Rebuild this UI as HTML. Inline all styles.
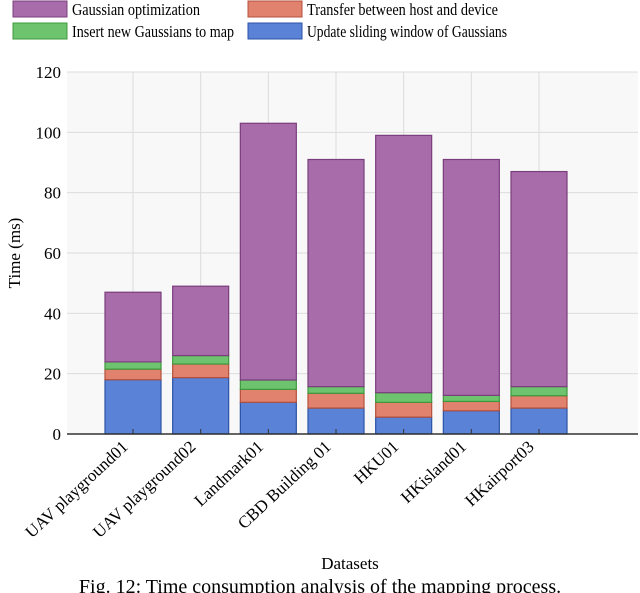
<!DOCTYPE html>
<html><head><meta charset="utf-8"><style>
body{margin:0;background:#fff;width:640px;height:593px;overflow:hidden;font-family:"Liberation Serif",serif}
svg{display:block}
</style></head><body>
<svg id="c" width="640" height="593" font-family="Liberation Serif, serif">
<g>
<g><rect x="13" y="1" width="54" height="16" fill="#a86caa" stroke="#7a3e7c"/><text x="72" y="15" font-size="17" textLength="128" lengthAdjust="spacingAndGlyphs">Gaussian optimization</text></g>
<g><rect x="248" y="1" width="54" height="16" fill="#e0826e" stroke="#b4503c"/><text x="307" y="15" font-size="17" textLength="191" lengthAdjust="spacingAndGlyphs">Transfer between host and device</text></g>
<g><rect x="13" y="23" width="54" height="16" fill="#6ec46e" stroke="#3c9a3c"/><text x="72" y="37" font-size="17" textLength="162" lengthAdjust="spacingAndGlyphs">Insert new Gaussians to map</text></g>
<g><rect x="248" y="23" width="54" height="16" fill="#5a82d6" stroke="#2a52a6"/><text x="307" y="37" font-size="17" textLength="200" lengthAdjust="spacingAndGlyphs">Update sliding window of Gaussians</text></g>
</g>
<rect x="67" y="72" width="571" height="362" fill="#f8f8f8"/>
<g id="grid"></g><g id="bars"></g><g id="axes"></g>
<text transform="translate(20,253) rotate(-90)" text-anchor="middle" font-size="17">Time (ms)</text>
<text x="350" y="569" text-anchor="middle" font-size="17">Datasets</text>
<text x="320" y="593" text-anchor="middle" font-size="20">Fig. 12: Time consumption analysis of the mapping process.</text>
</svg>
<script>
const categories=["UAV playground01","UAV playground02","Landmark01","CBD Building 01","HKU01","HKisland01","HKairport03"];
const updateWindow=[18,18.7,10.5,8.6,5.6,7.7,8.6];
const transfer=[3.5,4.5,4.3,4.9,4.9,3.1,4.1];
const insertNew=[2.4,2.8,3.1,2.2,3.2,2.0,3.0];
const optimization=[23.1,23,85.1,75.3,85.3,78.2,71.3];
const yTicks=[0,20,40,60,80,100,120];
const NS="http://www.w3.org/2000/svg";
const x0=67,x1=638,yb=434,yt=72,ymax=120;
const y=v=>yb-(v/ymax)*(yb-yt);
const band=(539-133)/6,bw=56;
const xc=i=>133+i*band;
function mk(t,a,p){const e=document.createElementNS(NS,t);for(const k in a)e.setAttribute(k,a[k]);p.appendChild(e);return e;}
const grid=document.getElementById('grid'),bars=document.getElementById('bars'),axes=document.getElementById('axes');
yTicks.forEach(v=>{
 const l=mk('line',{x1:x0,x2:x1,y1:y(v),y2:y(v),stroke:'#dcdcdc','stroke-width':1},grid);
 
 
 const t=mk('text',{x:x0-6,y:y(v)+6,'text-anchor':'end','font-size':17},axes);t.textContent=v;
 
 
});
categories.forEach((c,i)=>{
 const l=mk('line',{x1:xc(i),x2:xc(i),y1:yt,y2:yb,stroke:'#dcdcdc','stroke-width':1},grid);
 
 
});
const series=[[updateWindow,'#5a82d6','#2a52a6','bar-update-window'],[transfer,'#e0826e','#b4503c','bar-transfer'],[insertNew,'#6ec46e','#3c9a3c','bar-insert'],[optimization,'#a86caa','#7a3e7c','bar-optimization']];
categories.forEach((c,i)=>{
 let base=0;
 series.forEach(s=>{
  const v=s[0][i];
  const r=mk('rect',{x:xc(i)-bw/2,y:y(base+v),width:bw,height:y(base)-y(base+v),fill:s[1],stroke:s[2],'stroke-width':1.2},bars);
  
  
  base+=v;
 });
 mk('line',{x1:xc(i),x2:xc(i),y1:yb,y2:yb-5,stroke:'#333'},axes);
 const t=mk('text',{transform:`translate(${xc(i)-4},${yb+14}) rotate(-43)`,'text-anchor':'end','font-size':17},axes);
 t.textContent=c;
 
 
});
const ax=mk('line',{x1:x0,x2:x1,y1:yb,y2:yb,stroke:'#333','stroke-width':1.5},axes);


</script>
</body></html>
